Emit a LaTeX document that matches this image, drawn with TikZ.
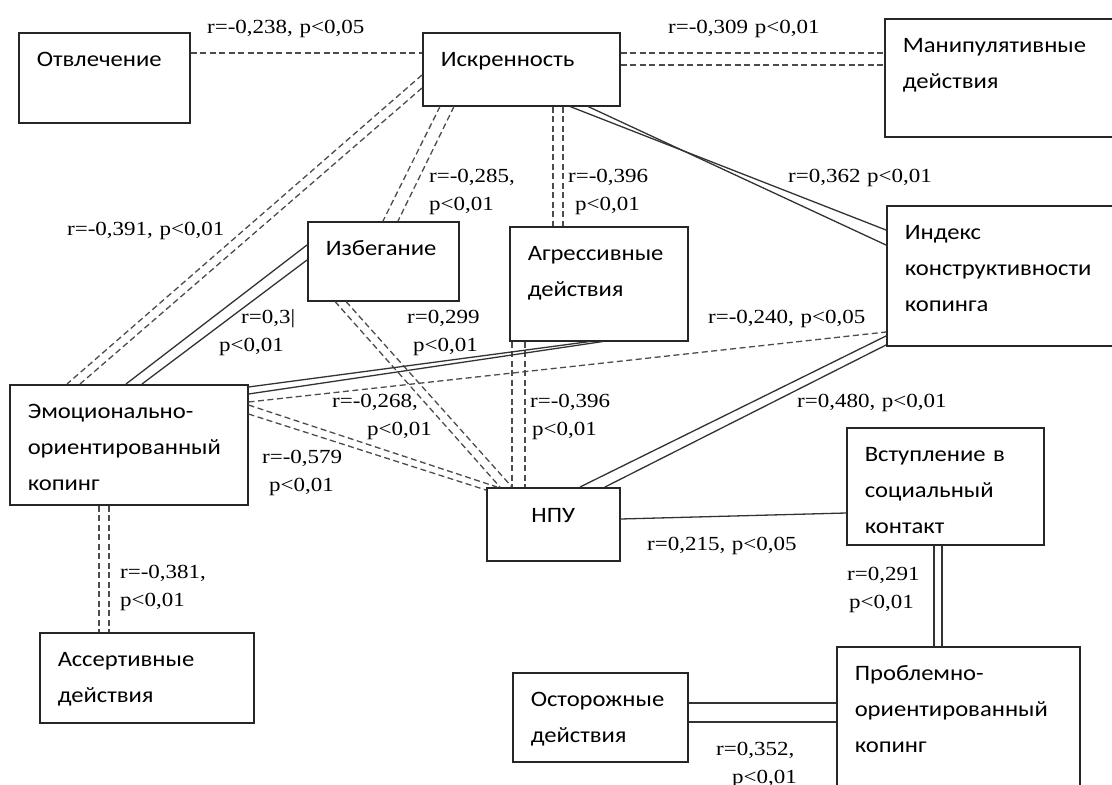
\documentclass[tikz,border=0pt]{standalone}
\usepackage{fontspec}
\newfontfamily\boxfont{Carlito}[FakeStretch=1.12]
\newfontfamily\corfont{Liberation Serif}[FakeStretch=1.15]
\usetikzlibrary{calc}

\tikzset{
  box/.style={draw=black!85, line width=1.5pt, anchor=north west, inner xsep=18pt, inner ysep=0pt,
    text height=34pt, align=left, font=\boxfont\fontsize{22}{36}\selectfont},
  corr/.style={anchor=base west, inner sep=0pt, align=left, text width=170pt,
    font=\corfont\fontsize{20}{28}\selectfont},
  posline/.style={black!80, line width=1.3pt},
  negline/.style={black!70, line width=1.3pt, dash pattern=on 6pt off 3.5pt}
}

\begin{document}
\begin{tikzpicture}[x=1pt,y=-1pt]
  \clip (0,0) rectangle (1112,785);
  \fill[white] (0,0) rectangle (1112,785);

  % boxes
  \node[box, text width=135pt, text depth=56pt] (otv) at (18,32) {Отвлечение};
  \node[box, text width=161pt, text depth=39pt] (isk) at (422,32) {Искренность};
  \node[box, text width=204pt, text depth=84pt] (man) at (884,18) {Манипулятивные\\действия};
  \node[box, text width=204pt, text depth=106pt] (ind) at (886,205) {Индекс\\конструктивности\\копинга};
  \node[box, text width=115pt, text depth=45pt] (izb) at (307,221) {Избегание};
  \node[box, text width=142pt, text depth=80pt] (agr) at (509,226) {Агрессивные\\действия};
  \node[box, text width=202pt, text depth=86pt] (emo) at (9,384) {Эмоционально-\\ориентированный\\копинг};
  \node[box, align=center, text width=97pt, text height=35pt, text depth=38pt] (npu) at (486,487) {НПУ};
  \node[box, text width=161pt, text depth=83pt] (vst) at (846,427) {Вступление в\\социальный\\контакт};
  \node[box, text width=207pt, text depth=126pt] (prb) at (836,646) {Проблемно-\\ориентированный\\копинг};
  \node[box, text width=139pt, text depth=55pt] (ost) at (512,672) {Осторожные\\действия};
  \node[box, text width=178pt, text depth=56pt] (asr) at (39,632) {Ассертивные\\действия};

  % negative links (dashed)
  \draw[negline] ($(otv.north east)+(0,21)$) -- ($(isk.north west)+(0,21)$);
  \draw[negline] ($(isk.north east)+(0,21)$) -- ($(man.north west)+(0,35)$);
  \draw[negline] ($(isk.north east)+(0,33)$) -- ($(man.north west)+(0,47)$);
  \draw[negline] ($(isk.north west)+(0,43)$) -- ($(emo.north west)+(58,0)$);
  \draw[negline] ($(isk.north west)+(0,56)$) -- ($(emo.north west)+(71,0)$);
  \draw[negline] ($(isk.south west)+(18,0)$) -- ($(izb.north west)+(76,0)$);
  \draw[negline] ($(isk.south west)+(32,0)$) -- ($(izb.north west)+(91,0)$);
  \draw[negline] ($(isk.south west)+(131,0)$) -- ($(agr.north west)+(44,0)$);
  \draw[negline] ($(isk.south west)+(141,0)$) -- ($(agr.north west)+(54,0)$);
  \draw[negline] ($(izb.south west)+(28,0)$) -- ($(npu.north west)+(14,0)$);
  \draw[negline] ($(izb.south west)+(39,0)$) -- ($(npu.north west)+(26,0)$);
  \draw[negline] ($(emo.north east)+(0,18)$) -- ($(ind.north west)+(0,127)$);
  \draw[negline] ($(emo.north east)+(0,21)$) -- ($(npu.north west)+(11,0)$);
  \draw[negline] ($(emo.north east)+(0,30)$) -- ($(npu.north west)+(0,3)$);
  \draw[negline] ($(agr.south west)+(3,0)$) -- ($(npu.north west)+(26,0)$);
  \draw[negline] ($(agr.south west)+(16,0)$) -- ($(npu.north west)+(39,0)$);
  \draw[negline] ($(emo.south west)+(90,0)$) -- ($(asr.north west)+(60,0)$);
  \draw[negline] ($(emo.south west)+(100,0)$) -- ($(asr.north west)+(70,0)$);

  % positive links (solid)
  \draw[posline] ($(isk.south west)+(148,0)$) -- ($(ind.north west)+(0,25)$);
  \draw[posline] ($(isk.south west)+(166,0)$) -- ($(ind.north west)+(0,40)$);
  \draw[posline] ($(izb.north west)+(0,24)$) -- ($(emo.north west)+(117,0)$);
  \draw[posline] ($(izb.north west)+(0,39)$) -- ($(emo.north west)+(133,0)$);
  \draw[posline] ($(emo.north east)+(0,3)$) -- ($(agr.south west)+(81,0)$);
  \draw[posline] ($(emo.north east)+(0,10)$) -- ($(agr.south west)+(94,0)$);
  \draw[posline] ($(npu.north west)+(94,0)$) -- ($(ind.north west)+(0,131)$);
  \draw[posline] ($(npu.north west)+(119,0)$) -- ($(ind.north west)+(0,140)$);
  \draw[posline] ($(npu.north east)+(0,32)$) -- ($(vst.north west)+(0,86)$);
  \draw[posline] ($(vst.south west)+(88,0)$) -- ($(prb.north west)+(98,0)$);
  \draw[posline] ($(vst.south west)+(96,0)$) -- ($(prb.north west)+(106,0)$);
  \draw[posline] ($(ost.north east)+(0,31)$) -- ($(prb.north west)+(0,57)$);
  \draw[posline] ($(ost.north east)+(0,50)$) -- ($(prb.north west)+(0,76)$);

  % correlations
  \node[corr] (c-otv) at (207,33) {r=-0,238, p<0,05};
  \node[corr] (c-man) at (668,33) {r=-0,309 p<0,01};
  \node[corr] (c-isk-emo) at (67,235) {r=-0,391, p<0,01};
  \node[corr] (c-izb) at (429,182) {r=-0,285,\\p<0,01};
  \node[corr] (c-agr) at (568,182) {r=-0,396\\\hspace*{7pt}p<0,01};
  \node[corr] (c-ind) at (788,182) {r=0,362 p<0,01};
  \node[corr] (c-izb-emo) at (219,323) {\hspace*{22pt}r=0,3|\\p<0,01};
  \node[corr] (c-emo-agr) at (407,323) {r=0,299\\\hspace*{6pt}p<0,01};
  \node[corr] (c-emo-ind) at (708,323) {r=-0,240, p<0,05};
  \node[corr] (c-izb-npu) at (332,407) {r=-0,268,\\\hspace*{35pt}p<0,01};
  \node[corr] (c-agr-npu) at (530,407) {r=-0,396\\\hspace*{2pt}p<0,01};
  \node[corr] (c-npu-ind) at (797,407) {r=0,480, p<0,01};
  \node[corr] (c-emo-npu) at (262,463) {r=-0,579\\\hspace*{7pt}p<0,01};
  \node[corr] (c-npu-vst) at (647,550) {r=0,215, p<0,05};
  \node[corr] (c-vst-prb) at (847,580) {r=0,291\\\hspace*{2pt}p<0,01};
  \node[corr] (c-asr) at (120,578) {r=-0,381,\\p<0,01};
  \node[corr] (c-ost) at (716,755) {r=0,352,\\\hspace*{16pt}p<0,01};
\end{tikzpicture}
\end{document}
